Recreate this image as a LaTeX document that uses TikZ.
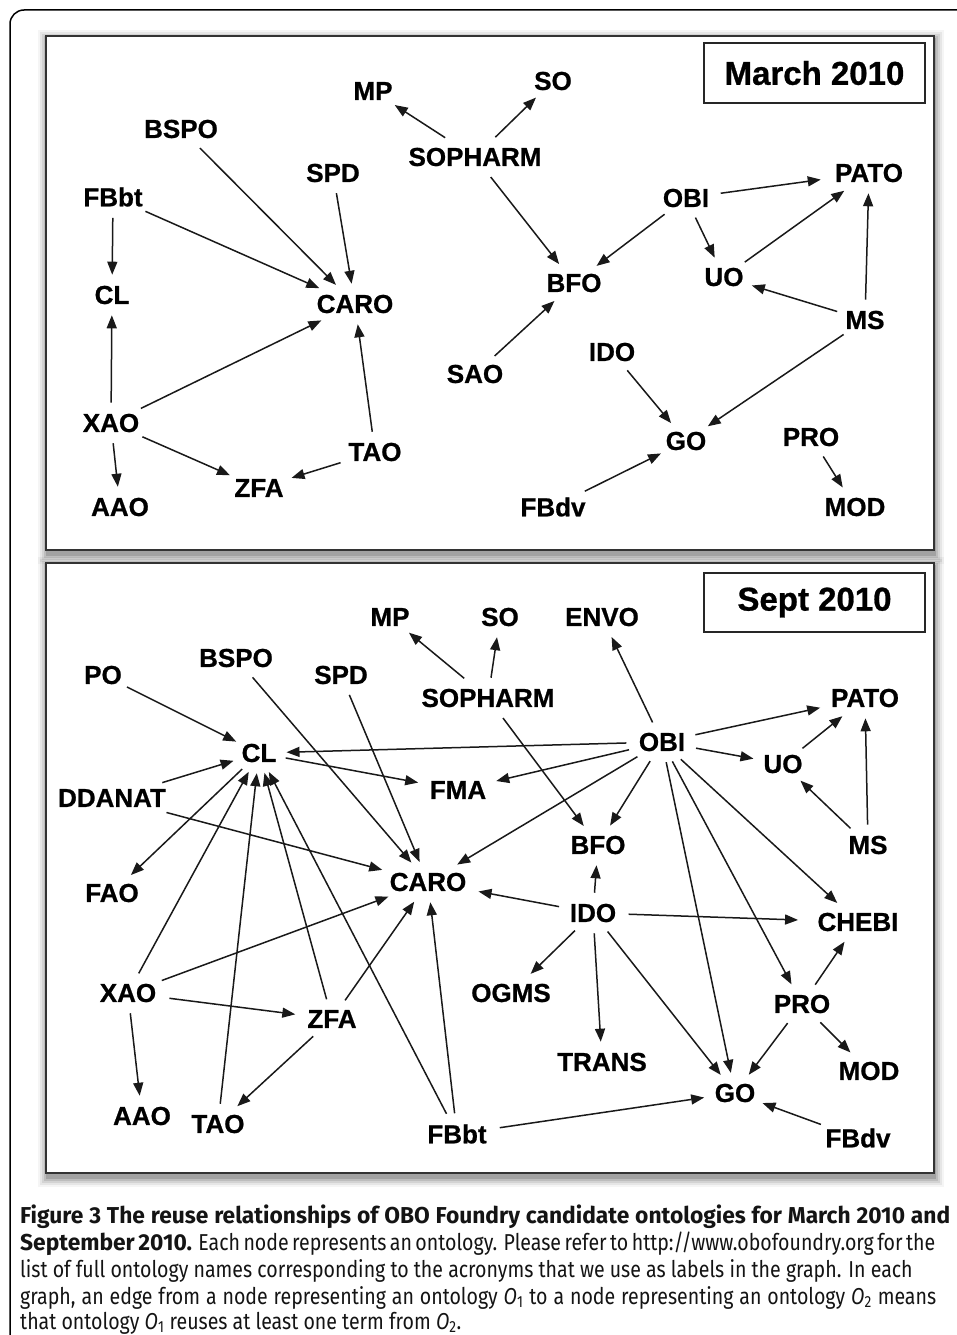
\documentclass[tikz,border=0pt]{standalone}
\usepackage{fontspec}
\setmainfont{Liberation Sans}
\newfontfamily\lblfont[FakeBold=0.8]{Liberation Sans Bold}
\newfontfamily\capfont[FakeStretch=0.85]{Fira Sans}
\newfontfamily\capbf[FakeStretch=0.99]{Fira Sans}
\usetikzlibrary{arrows.meta,shapes.geometric}
\newcommand\shpanel[4]{%
  \foreach \i/\o in {9/0.04,7/0.06,5/0.08,3/0.10,1/0.14}{%
    \fill[black,opacity=\o] (#1-\i+1,#2-\i+3) rectangle (#3+\i+1,#4+\i+5);}%
  \draw[panel] (#1,#2) rectangle (#3,#4);%
}
\begin{document}
\begin{tikzpicture}[x=1pt,y=-1pt,
  lbl/.style={ellipse, inner xsep=2pt, inner ysep=5pt, font=\lblfont\fontsize{26}{26}\selectfont, text=black},
  edge/.style={-{Triangle[length=13pt,width=10pt]}, line width=1.5pt, draw=black!90},
  panel/.style={draw=black!80, line width=2pt, fill=white},
  datebox/.style={draw=black!85, line width=1.5pt, minimum width=221pt, minimum height=60pt, inner sep=0pt, font=\lblfont\fontsize{33}{33}\selectfont},
  capline/.style={anchor=base west, inner sep=0pt, font=\capfont\fontsize{23}{23}\selectfont, text=black!92}
]
\useasboundingbox (0,0) rectangle (957,1335);
\fill[white] (0,0) rectangle (957,1335);
\draw[line width=1.5pt, rounded corners=14pt] (10,1345) -- (10,10) -- (970,10);

% ---------------- top panel ----------------
\shpanel{46}{36}{934}{550}
\node[datebox] (amarch) at (814.5,73) {March 2010};

\node[lbl] (aMP) at (373,91) {MP};
\node[lbl] (aSO) at (553,81) {SO};
\node[lbl] (aSOPHARM) at (475,157) {SOPHARM};
\node[lbl] (aBSPO) at (181,129) {BSPO};
\node[lbl] (aSPD) at (333,173) {SPD};
\node[lbl] (aFBbt) at (113,197) {FBbt};
\node[lbl] (aCL) at (112,295) {CL};
\node[lbl] (aCARO) at (355,304) {CARO};
\node[lbl] (aXAO) at (111,423) {XAO};
\node[lbl] (aAAO) at (120,507) {AAO};
\node[lbl] (aZFA) at (259,488) {ZFA};
\node[lbl] (aTAO) at (375,452) {TAO};
\node[lbl] (aSAO) at (475,374) {SAO};
\node[lbl] (aBFO) at (574,283) {BFO};
\node[lbl] (aOBI) at (686,198) {OBI};
\node[lbl] (aPATO) at (869,173) {PATO};
\node[lbl] (aUO) at (724,277) {UO};
\node[lbl] (aMS) at (865,320) {MS};
\node[lbl] (aIDO) at (612,352) {IDO};
\node[lbl] (aGO) at (686,441) {GO};
\node[lbl] (aPRO) at (811,437) {PRO};
\node[lbl] (aMOD) at (855,507) {MOD};
\node[lbl] (aFBdv) at (553,507) {FBdv};

\draw[edge] (aSOPHARM) -- (aMP);
\draw[edge] (aSOPHARM) -- (aSO);
\draw[edge] (aSOPHARM) -- (aBFO);
\draw[edge] (aBSPO) -- (aCARO);
\draw[edge] (aSPD) -- (aCARO);
\draw[edge] (aFBbt) -- (aCARO);
\draw[edge] (aFBbt) -- (aCL);
\draw[edge] (aXAO) -- (aCL);
\draw[edge] (aXAO) -- (aCARO);
\draw[edge] (aXAO) -- (aAAO);
\draw[edge] (aXAO) -- (aZFA);
\draw[edge] (aTAO) -- (aCARO);
\draw[edge] (aTAO) -- (aZFA);
\draw[edge] (aOBI) -- (aPATO);
\draw[edge] (aOBI) -- (aBFO);
\draw[edge] (aOBI) -- (aUO);
\draw[edge] (aUO) -- (aPATO);
\draw[edge] (aMS) -- (aUO);
\draw[edge] (aMS) -- (aPATO);
\draw[edge] (aMS) -- (aGO);
\draw[edge] (aSAO) -- (aBFO);
\draw[edge] (aIDO) -- (aGO);
\draw[edge] (aFBdv) -- (aGO);
\draw[edge] (aPRO) -- (aMOD);

% ---------------- bottom panel ----------------
\shpanel{46}{563}{934}{1173}
\node[datebox, minimum height=59pt] (bsept) at (814.5,602.5) {Sept 2010};

\node[lbl] (bMP) at (390,617) {MP};
\node[lbl] (bSO) at (500,617) {SO};
\node[lbl] (bENVO) at (602,617) {ENVO};
\node[lbl] (bSOPHARM) at (488,698) {SOPHARM};
\node[lbl] (bPO) at (103,675) {PO};
\node[lbl] (bBSPO) at (236,658) {BSPO};
\node[lbl] (bSPD) at (341,675) {SPD};
\node[lbl] (bCL) at (259,753) {CL};
\node[lbl] (bDDANAT) at (112,798) {DDANAT};
\node[lbl] (bFMA) at (458,790) {FMA};
\node[lbl] (bOBI) at (662,742) {OBI};
\node[lbl] (bPATO) at (865,698) {PATO};
\node[lbl] (bUO) at (783,764) {UO};
\node[lbl] (bMS) at (868,845) {MS};
\node[lbl] (bBFO) at (598,845) {BFO};
\node[lbl] (bCARO) at (428,882) {CARO};
\node[lbl] (bFAO) at (112,893) {FAO};
\node[lbl] (bIDO) at (593,913) {IDO};
\node[lbl] (bCHEBI) at (858,922) {CHEBI};
\node[lbl] (bXAO) at (128,993) {XAO};
\node[lbl] (bOGMS) at (511,993) {OGMS};
\node[lbl] (bZFA) at (332,1019) {ZFA};
\node[lbl] (bPRO) at (802,1004) {PRO};
\node[lbl] (bTRANS) at (602,1062) {TRANS};
\node[lbl] (bMOD) at (869,1071) {MOD};
\node[lbl] (bGO) at (735,1093) {GO};
\node[lbl] (bAAO) at (142,1116) {AAO};
\node[lbl] (bTAO) at (218,1124) {TAO};
\node[lbl] (bFBbt) at (457,1134) {FBbt};
\node[lbl] (bFBdv) at (858,1138) {FBdv};

\draw[edge] (bSOPHARM) -- (bMP);
\draw[edge] (bSOPHARM) -- (bSO);
\draw[edge] (bSOPHARM) -- (bBFO);
\draw[edge] (bOBI) -- (bENVO);
\draw[edge] (bOBI) -- (bPATO);
\draw[edge] (bOBI) -- (bUO);
\draw[edge] (bOBI) -- (bCL);
\draw[edge] (bOBI) -- (bFMA);
\draw[edge] (bOBI) -- (bCARO);
\draw[edge] (bOBI) -- (bBFO);
\draw[edge] (bOBI) -- (bGO);
\draw[edge] (bOBI) -- (bCHEBI);
\draw[edge] (bOBI) -- (bPRO);
\draw[edge] (bUO) -- (bPATO);
\draw[edge] (bMS) -- (bUO);
\draw[edge] (bMS) -- (bPATO);
\draw[edge] (bPO) -- (bCL);
\draw[edge] (bDDANAT) -- (bCL);
\draw[edge] (bDDANAT) -- (bCARO);
\draw[edge] (bCL) -- (bFMA);
\draw[edge] (bCL) -- (bFAO);
\draw[edge] (bXAO) -- (bCL);
\draw[edge] (bXAO) -- (bCARO);
\draw[edge] (bXAO) -- (bZFA);
\draw[edge] (bXAO) -- (bAAO);
\draw[edge] (bTAO) -- (bCL);
\draw[edge] (bZFA) -- (bCL);
\draw[edge] (bZFA) -- (bCARO);
\draw[edge] (bZFA) -- (bTAO);
\draw[edge] (bFBbt) -- (bCL);
\draw[edge] (bFBbt) -- (bCARO);
\draw[edge] (bFBbt) -- (bGO);
\draw[edge] (bBSPO) -- (bCARO);
\draw[edge] (bSPD) -- (bCARO);
\draw[edge] (bIDO) -- (bCARO);
\draw[edge] (bIDO) -- (bBFO);
\draw[edge] (bIDO) -- (bCHEBI);
\draw[edge] (bIDO) -- (bOGMS);
\draw[edge] (bIDO) -- (bTRANS);
\draw[edge] (bIDO) -- (bGO);
\draw[edge] (bPRO) -- (bCHEBI);
\draw[edge] (bPRO) -- (bMOD);
\draw[edge] (bPRO) -- (bGO);
\draw[edge] (bFBdv) -- (bGO);

% ---------------- caption ----------------
\node[capline] (cap1) at (20,1223) {\makebox[930pt][s]{\capbf\bfseries Figure 3 The reuse relationships of OBO Foundry candidate ontologies for March 2010 and}};
\node[capline] (cap2) at (20,1250) {\makebox[908pt][s]{{\capbf\bfseries September 2010.} Each node represents an ontology. Please refer to http://www.obofoundry.org for the}};
\node[capline] (cap3) at (20,1277) {list of full ontology names corresponding to the acronyms that we use as labels in the graph. In each};
\node[capline] (cap4) at (20,1304) {\makebox[916pt][s]{graph, an edge from a node representing an ontology \textit{O}\textsubscript{1} to a node representing an ontology \textit{O}\textsubscript{2} means}};
\node[capline] (cap5) at (20,1329) {that ontology \textit{O}\textsubscript{1} reuses at least one term from \textit{O}\textsubscript{2}.};
\end{tikzpicture}
\end{document}
